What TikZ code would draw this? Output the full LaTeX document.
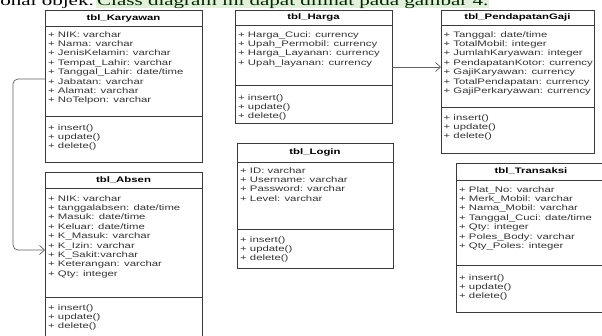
\documentclass[tikz,border=0pt]{standalone}
\usepackage{fontspec}
\usetikzlibrary{arrows.meta}
\newfontfamily\umlfont[FakeStretch=1.42]{Liberation Sans}
\newfontfamily\capfont[FakeStretch=1.45]{Liberation Serif}
\definecolor{capgreen}{HTML}{E2EFDA}
\definecolor{umlline}{HTML}{3A3A3A}
\definecolor{umltext}{HTML}{333333}
\begin{document}
\begin{tikzpicture}[x=1pt,y=-1pt,
	classbox/.style={draw=umlline, line width=0.8pt, outer sep=0pt, anchor=north west},
	title/.style={font=\umlfont\fontsize{8}{9}\selectfont\bfseries, text=black},
	attr/.style={font=\umlfont\fontsize{8}{9}\selectfont, text=umltext, anchor=base west, inner sep=0pt},
	sep/.style={draw=umlline, line width=0.8pt},
	assoc/.style={draw=umlline!80, line width=0.7pt, rounded corners=5pt, -{Straight Barb[length=5pt,width=9pt]}}]
	\clip (0,0) rectangle (602,335);
	% caption of the page, cut at the top
	\node[font=\capfont\fontsize{14.5}{16}\selectfont, anchor=base east, inner sep=0pt] (cap-a) at (94,5) {onal objek.};
	\node[font=\capfont\fontsize{14.5}{16}\selectfont, anchor=base west, fill=capgreen, inner xsep=1pt, inner ysep=0pt, text=black!85!green] (cap-b) at (96,5) {Class diagram ini dapat dilihat pada gambar 4.};
	% tbl_Karyawan
	\node[classbox, minimum width=157pt, minimum height=152pt] (karyawan) at (45,10) {};
	\node[title] (karyawan-t) at (karyawan.north |- 0,18) {tbl\_Karyawan};
	\draw[sep] (karyawan.west |- 0,26) -- (karyawan.east |- 0,26);
	\draw[sep] (karyawan.west |- 0,116) -- (karyawan.east |- 0,116);
	\foreach \a [count=\i] in {NIK: varchar, Nama: varchar, JenisKelamin: varchar, Tempat\_Lahir: varchar, Tanggal\_Lahir: date/time, Jabatan: varchar, Alamat: varchar, NoTelpon: varchar}
		\node[attr] (ka-\i) at (48,{37+9.4*(\i-1)}) {+ \a};
	\foreach \m [count=\i] in {insert(), update(), delete()}
		\node[attr] (km-\i) at (48,{130+9.4*(\i-1)}) {+ \m};
	% tbl_Absen
	\node[classbox, minimum width=157pt, minimum height=175pt] (absen) at (45,172) {};
	\node[title] (absen-t) at (absen.north |- 0,180) {tbl\_Absen};
	\draw[sep] (absen.west |- 0,188) -- (absen.east |- 0,188);
	\draw[sep] (absen.west |- 0,297) -- (absen.east |- 0,297);
	\foreach \a [count=\i] in {NIK: varchar, tanggalabsen: date/time, Masuk: date/time, Keluar: date/time, K\_Masuk: varchar, K\_Izin: varchar, K\_Sakit:varchar, Keterangan: varchar, Qty: integer}
		\node[attr] (aa-\i) at (48,{201+9.4*(\i-1)}) {+ \a};
	\foreach \m [count=\i] in {insert(), update(), delete()}
		\node[attr] (am-\i) at (48,{310+9.4*(\i-1)}) {+ \m};
	% tbl_Harga
	\node[classbox, minimum width=157pt, minimum height=113pt] (harga) at (235,10) {};
	\node[title] (harga-t) at (harga.north |- 0,17.5) {tbl\_Harga};
	\draw[sep] (harga.west |- 0,25) -- (harga.east |- 0,25);
	\draw[sep] (harga.west |- 0,85) -- (harga.east |- 0,85);
	\foreach \a [count=\i] in {Harga\_Cuci: currency, Upah\_Permobil: currency, Harga\_Layanan: currency, Upah\_layanan: currency}
		\node[attr] (ha-\i) at (238,{37+9.4*(\i-1)}) {+ \a};
	\foreach \m [count=\i] in {insert(), update(), delete()}
		\node[attr] (hm-\i) at (238,{100+9.4*(\i-1)}) {+ \m};
	% tbl_Login
	\node[classbox, minimum width=156pt, minimum height=125pt] (login) at (237,143) {};
	\node[title] (login-t) at (login.north |- 0,152.5) {tbl\_Login};
	\draw[sep] (login.west |- 0,162) -- (login.east |- 0,162);
	\draw[sep] (login.west |- 0,229) -- (login.east |- 0,229);
	\foreach \a [count=\i] in {ID: varchar, Username: varchar, Password: varchar, Level: varchar}
		\node[attr] (la-\i) at (240,{173+9.4*(\i-1)}) {+ \a};
	\foreach \m [count=\i] in {insert(), update(), delete()}
		\node[attr] (lm-\i) at (240,{242+9.4*(\i-1)}) {+ \m};
	% tbl_PendapatanGaji
	\node[classbox, minimum width=153pt, minimum height=143pt] (gaji) at (441,10) {};
	\node[title] (gaji-t) at (gaji.north |- 0,17.5) {tbl\_PendapatanGaji};
	\draw[sep] (gaji.west |- 0,25) -- (gaji.east |- 0,25);
	\draw[sep] (gaji.west |- 0,107) -- (gaji.east |- 0,107);
	\foreach \a [count=\i] in {Tanggal: date/time, TotalMobil: integer, JumlahKaryawan: integer, PendapatanKotor: currency, GajiKaryawan: currency, TotalPendapatan: currency, GajiPerkaryawan: currency}
		\node[attr] (ga-\i) at (443.5,{37+9.4*(\i-1)}) {+ \a};
	\foreach \m [count=\i] in {insert(), update(), delete()}
		\node[attr] (gm-\i) at (443.5,{120+9.4*(\i-1)}) {+ \m};
	% tbl_Transaksi
	\node[classbox, minimum width=150pt, minimum height=149pt] (transaksi) at (456,163) {};
	\node[title] (transaksi-t) at (transaksi.north |- 0,171.5) {tbl\_Transaksi};
	\draw[sep] (transaksi.west |- 0,180) -- (transaksi.east |- 0,180);
	\draw[sep] (transaksi.west |- 0,265) -- (transaksi.east |- 0,265);
	\foreach \a [count=\i] in {Plat\_No: varchar, Merk\_Mobil: varchar, Nama\_Mobil: varchar, Tanggal\_Cuci: date/time, Qty: integer, Poles\_Body: varchar, Qty\_Poles: integer}
		\node[attr] (ta-\i) at (459,{192+9.4*(\i-1)}) {+ \a};
	\foreach \m [count=\i] in {insert(), update(), delete()}
		\node[attr] (tm-\i) at (459,{280+9.4*(\i-1)}) {+ \m};
	% associations
	\draw[assoc] (karyawan.west |- 0,79) -- (13,79) -- (13,250) -- (absen.west |- 0,250);
	\draw[assoc] (harga.east |- 0,67) -- (gaji.west |- 0,67);
\end{tikzpicture}
\end{document}
